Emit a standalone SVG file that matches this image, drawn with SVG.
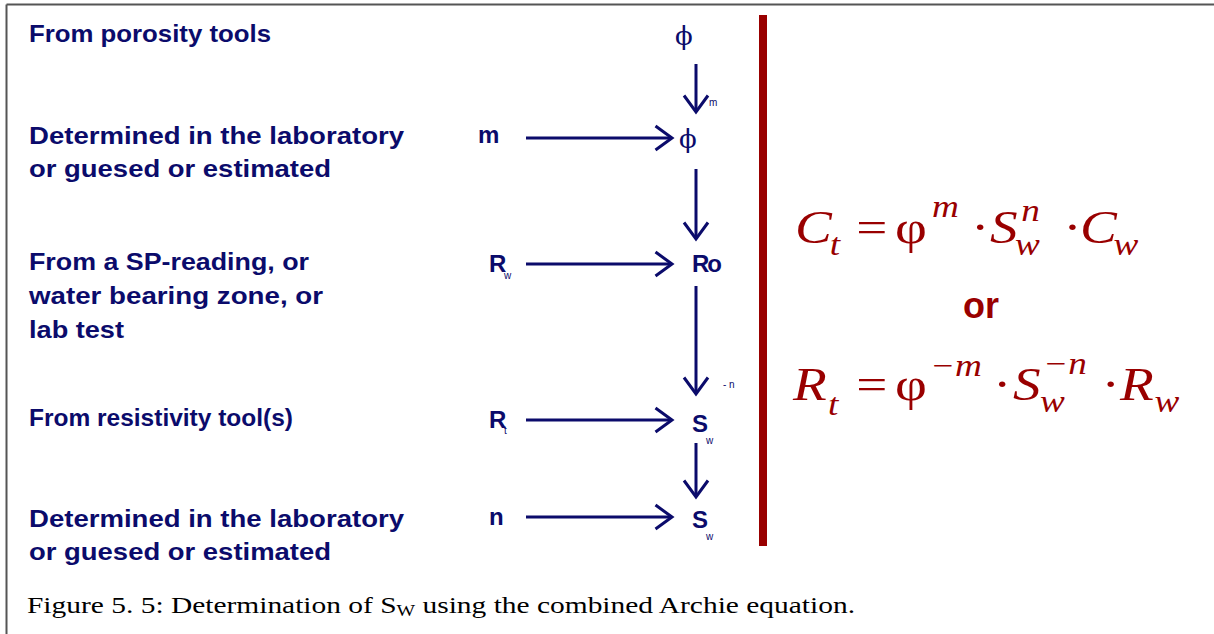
<svg xmlns="http://www.w3.org/2000/svg" width="1214" height="634" viewBox="0 0 1214 634">
<style>
.lbl{font-family:"Liberation Sans",Arial,sans-serif;font-weight:bold;font-size:24px;fill:#0b0b6b}
.mid{font-family:"Liberation Sans",Arial,sans-serif;font-weight:bold;font-size:24px;fill:#0b0b6b}
.tiny{font-family:"Liberation Sans",Arial,sans-serif;font-size:10px;fill:#0b0b6b}
.phi{font-family:"DejaVu Serif","Liberation Serif",serif;font-size:26px;fill:#0b0b6b}
.eq{font-family:"Liberation Serif","Times New Roman",serif;font-size:46px;fill:#990000}
.it{font-style:italic}
.sm{font-size:31px}
.or{font-family:"Liberation Sans",Arial,sans-serif;font-weight:bold;font-size:36px;fill:#990000}
.cap{font-family:"Liberation Serif","Times New Roman",serif;font-size:24px;fill:#000}
.arr{stroke:#0b0b6b;stroke-width:3;fill:none;marker-end:url(#head)}
</style>
<defs>
<marker id="head" markerWidth="8" markerHeight="10" refX="6.5" refY="5" orient="auto" markerUnits="strokeWidth">
<path d="M1,1 L6.5,5 L1,9" fill="none" stroke="#0b0b6b" stroke-width="1"/>
</marker>
</defs>
<rect width="1214" height="634" fill="#fff"/>
<g id="frame" stroke="#555" stroke-width="2">
<line x1="6.5" y1="4.5" x2="1214" y2="4.5"/>
<line x1="6.5" y1="4.5" x2="6.5" y2="634"/>
</g>
<rect id="divider" x="759" y="15" width="8" height="531" fill="#990000"/>
<g id="labels">
<text class="lbl" x="29" y="42" textLength="242" lengthAdjust="spacingAndGlyphs">From porosity tools</text>
<text class="lbl" x="29" y="144" textLength="375" lengthAdjust="spacingAndGlyphs">Determined in the laboratory</text>
<text class="lbl" x="29" y="177" textLength="302" lengthAdjust="spacingAndGlyphs">or guesed or estimated</text>
<text class="lbl" x="29" y="270" textLength="280" lengthAdjust="spacingAndGlyphs">From a SP-reading, or</text>
<text class="lbl" x="29" y="304" textLength="294" lengthAdjust="spacingAndGlyphs">water bearing zone, or</text>
<text class="lbl" x="29" y="338" textLength="95" lengthAdjust="spacingAndGlyphs">lab test</text>
<text class="lbl" x="29" y="426" textLength="264" lengthAdjust="spacingAndGlyphs">From resistivity tool(s)</text>
<text class="lbl" x="29" y="527" textLength="375" lengthAdjust="spacingAndGlyphs">Determined in the laboratory</text>
<text class="lbl" x="29" y="560" textLength="302" lengthAdjust="spacingAndGlyphs">or guesed or estimated</text>
</g>
<g id="inputs">
<text class="mid" x="478" y="143">m</text>
<g id="Rw"><text class="mid" x="489" y="272">R</text><text class="tiny" x="504" y="279" font-size="7">w</text></g>
<g id="Rt"><text class="mid" x="489" y="428">R</text><text class="tiny" x="504" y="434" font-size="7">t</text></g>
<text class="mid" x="489" y="525">n</text>
</g>
<g id="chain">
<text id="phi1" class="phi" x="675" y="45">ϕ</text>
<text class="tiny" x="709" y="106">m</text>
<text id="phi2" class="phi" x="679" y="148">ϕ</text>
<text id="Ro" class="mid" x="692" y="272" letter-spacing="-2">Ro</text>
<text class="tiny" x="723" y="388">- n</text>
<g id="Sw1"><text class="mid" x="692" y="432">S</text><text class="tiny" x="706" y="444">w</text></g>
<g id="Sw2"><text class="mid" x="692" y="528">S</text><text class="tiny" x="706" y="540">w</text></g>
</g>
<g id="connectors">
<line class="arr" x1="696" y1="64" x2="696" y2="112"/>
<line class="arr" x1="696" y1="169" x2="696" y2="239"/>
<line class="arr" x1="696" y1="286" x2="696" y2="394"/>
<line class="arr" x1="696" y1="443" x2="696" y2="497"/>
<line class="arr" x1="526" y1="138" x2="672" y2="138"/>
<line class="arr" x1="526" y1="264" x2="672" y2="264"/>
<line class="arr" x1="526" y1="420" x2="672" y2="420"/>
<line class="arr" x1="526" y1="517" x2="672" y2="517"/>
</g>
<g id="equation1" class="eq" transform="scale(1.2,1)">
<text class="it" x="662.5" y="243">C</text>
<text class="it sm" x="691.5" y="255">t</text>
<text x="713.5" y="243">=</text>
<text x="745.8" y="243">φ</text>
<text class="it sm" x="776.7" y="217">m</text>
<text x="809.2" y="243">·</text>
<text class="it" x="825" y="243">S</text>
<text class="it sm" x="851" y="221">n</text>
<text class="it sm" x="845.8" y="255">w</text>
<text x="886" y="243">·</text>
<text class="it" x="900" y="243">C</text>
<text class="it sm" x="928" y="255">w</text>
</g>
<text id="or" class="or" x="963" y="318">or</text>
<g id="equation2" class="eq" transform="scale(1.2,1)">
<text class="it" x="660.8" y="400">R</text>
<text class="it sm" x="690" y="415">t</text>
<text x="713.5" y="400">=</text>
<text x="745.8" y="400">φ</text>
<text class="it sm" x="775" y="376">−m</text>
<text x="827.5" y="400">·</text>
<text class="it" x="844.2" y="400">S</text>
<text class="it sm" x="869.2" y="374">−n</text>
<text class="it sm" x="866.7" y="412">w</text>
<text x="918" y="400">·</text>
<text class="it" x="933.3" y="400">R</text>
<text class="it sm" x="962" y="412">w</text>
</g>
<text id="caption" class="cap" x="27" y="613" textLength="828" lengthAdjust="spacingAndGlyphs">Figure 5. 5: Determination of S<tspan font-size="16" dy="3">W</tspan><tspan dy="-3"> using the combined Archie equation.</tspan></text>
</svg>
